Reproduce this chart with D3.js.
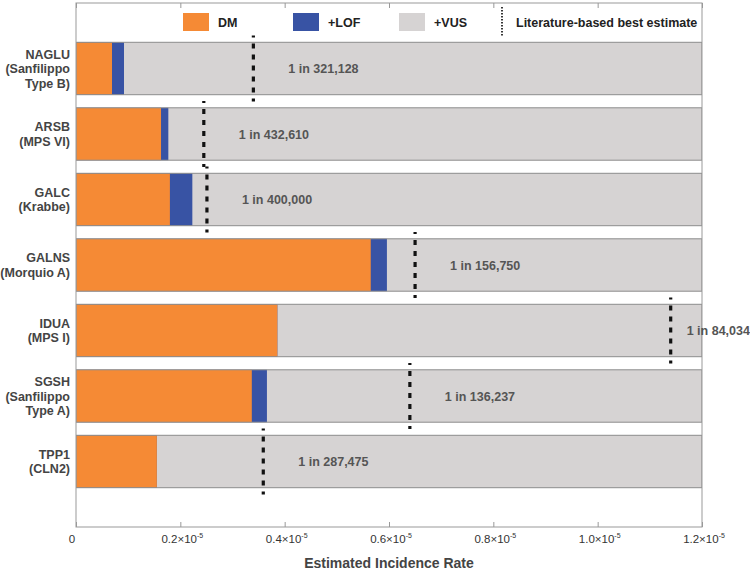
<!DOCTYPE html>
<html>
<head>
<meta charset="utf-8">
<script src="https://cdn.jsdelivr.net/npm/d3@7"></script>
<style>
  html, body { margin: 0; padding: 0; background: #fff; }
  svg { display: block; font-family: "Liberation Sans", Arial, Helvetica, sans-serif; }
</style>
</head>
<body>
<svg id="chart" width="750" height="570"></svg>
<script>
// ---- data ----
const genes = ["NAGLU", "ARSB", "GALC", "GALNS", "IDUA", "SGSH", "TPP1"];
const diseases = [["(Sanfilippo", "Type B)"], ["(MPS VI)"], ["(Krabbe)"], ["(Morquio A)"], ["(MPS I)"], ["(Sanfilippo", "Type A)"], ["(CLN2)"]];
const dmValues  = [0.069e-5, 0.163e-5, 0.180e-5, 0.565e-5, 0.386e-5, 0.337e-5, 0.155e-5];
const lofValues = [0.092e-5, 0.177e-5, 0.223e-5, 0.596e-5, 0.386e-5, 0.366e-5, 0.155e-5];
const vusValues = [1.2e-5, 1.2e-5, 1.2e-5, 1.2e-5, 1.2e-5, 1.2e-5, 1.2e-5];
const literatureEstimate = [0.340e-5, 0.245e-5, 0.251e-5, 0.650e-5, 1.140e-5, 0.640e-5, 0.359e-5];
const literatureLabels = ["1 in 321,128", "1 in 432,610", "1 in 400,000", "1 in 156,750", "1 in 84,034", "1 in 136,237", "1 in 287,475"];
const xTicks = [0, 0.2e-5, 0.4e-5, 0.6e-5, 0.8e-5, 1.0e-5, 1.2e-5];
const xTickLabels = ["0", "0.2×10", "0.4×10", "0.6×10", "0.8×10", "1.0×10", "1.2×10"];
const seriesNames = ["DM", "+LOF", "+VUS"];
const seriesColors = ["#F58A35", "#3853A4", "#D6D3D3"];

// ---- layout ----
const pLeft = 76, pRight = 702, pTop = 3, pBottom = 527;
const svg = d3.select("#chart");
const x = d3.scaleLinear().domain([0, 1.2e-5]).range([pLeft, pRight]);
const y = d3.scaleLinear().domain([0, genes.length + 1]).range([pTop, pBottom]);
const half = 0.4;
const barH = y(2 * half) - y(0);

svg.append("clipPath").attr("id", "plotclip")
  .append("rect").attr("x", pLeft).attr("y", pTop).attr("width", pRight - pLeft).attr("height", pBottom - pTop);

const g = svg.append("g").attr("clip-path", "url(#plotclip)");

const rows = genes.map((gname, i) => ({
  i, gname, dm: dmValues[i], lof: lofValues[i], vus: vusValues[i],
  lit: literatureEstimate[i], label: literatureLabels[i]
}));

const layers = [
  { key: "vus", color: seriesColors[2] },
  { key: "lof", color: seriesColors[1] },
  { key: "dm", color: seriesColors[0] }
];
layers.forEach(L => {
  g.selectAll(null).data(rows).enter().append("rect")
    .attr("x", x(0))
    .attr("y", d => y(d.i + 1 - half))
    .attr("width", d => Math.max(0, x(d[L.key]) - x(0)))
    .attr("height", barH)
    .attr("fill", L.color);
});
g.selectAll(null).data(rows).enter().append("rect")
  .attr("x", x(0))
  .attr("y", d => y(d.i + 1 - half))
  .attr("width", d => x(d.vus) - x(0))
  .attr("height", barH)
  .attr("fill", "none")
  .attr("stroke", "#8c8c8c")
  .attr("stroke-width", 1);

// plot frame
svg.append("rect").attr("x", pLeft).attr("y", pTop).attr("width", pRight - pLeft).attr("height", pBottom - pTop)
  .attr("fill", "none").attr("stroke", "#999").attr("stroke-width", 1);

// ticks (bottom and top, inward)
const axisB = d3.axisBottom(x).tickValues(xTicks).tickSize(-5).tickFormat("");
const axisT = d3.axisTop(x).tickValues(xTicks).tickSize(-5).tickFormat("");
const gb = svg.append("g").attr("transform", `translate(0,${pBottom})`).call(axisB);
const gt = svg.append("g").attr("transform", `translate(0,${pTop})`).call(axisT);
[gb, gt].forEach(a => {
  a.select(".domain").remove();
  a.selectAll(".tick line").attr("stroke", "#999");
});

// tick labels
const tl = svg.append("g").selectAll(null).data(xTicks).enter().append("text")
  .attr("x", (d, i) => x(d) + (i === 0 ? -4 : 2))
  .attr("y", 543)
  .attr("text-anchor", "middle")
  .attr("font-size", 11.5)
  .attr("fill", "#333");
tl.append("tspan").text((d, i) => xTickLabels[i]);
tl.filter((d, i) => i > 0).append("tspan")
  .attr("dy", -5).attr("font-size", 7).text("-5");

// axis title
svg.append("text").attr("x", (pLeft + pRight) / 2).attr("y", 568)
  .attr("text-anchor", "middle").attr("font-size", 14).attr("font-weight", "bold")
  .attr("fill", "#444").text("Estimated Incidence Rate");

// y labels
rows.forEach(d => {
  const lines = [d.gname].concat(diseases[d.i]);
  const lh = 14.5;
  const cy = y(d.i + 1);
  const t = svg.append("text").attr("text-anchor", "end")
    .attr("font-size", 12.5).attr("font-weight", "bold").attr("fill", "#444");
  lines.forEach((ln, k) => {
    t.append("tspan").attr("x", 70)
      .attr("y", cy + (k - (lines.length - 1) / 2) * lh + 4.5)
      .text(ln);
  });
});

// literature estimate dashed lines
svg.append("g").selectAll(null).data(rows).enter().append("line")
  .attr("x1", d => x(d.lit)).attr("x2", d => x(d.lit))
  .attr("y1", d => y(d.i + 1) - 33).attr("y2", d => y(d.i + 1) + 33)
  .attr("stroke", "#111").attr("stroke-width", 3.2)
  .attr("stroke-dasharray", "5,6").attr("stroke-dashoffset", 3);

// literature labels
svg.append("g").selectAll(null).data(rows).enter().append("text")
  .attr("x", d => x(d.lit) + (x(d.lit) + 35 + 60 > pRight ? 16 : 35))
  .attr("y", d => y(d.i + 1) + 4.5)
  .attr("font-size", 12.5).attr("font-weight", "bold").attr("fill", "#555")
  .text(d => d.label);

// legend
const legY = 13, legH = 18, legW = 26;
const legX = [183, 293, 399];
seriesNames.forEach((name, i) => {
  svg.append("rect").attr("x", legX[i]).attr("y", legY).attr("width", legW).attr("height", legH)
    .attr("fill", seriesColors[i]);
  svg.append("text").attr("x", legX[i] + legW + 9).attr("y", legY + legH / 2 + 4.5)
    .attr("font-size", 12.5).attr("font-weight", "bold").attr("fill", "#222").text(name);
});
svg.append("line").attr("x1", 502).attr("x2", 502).attr("y1", 7).attr("y2", 37)
  .attr("stroke", "#222").attr("stroke-width", 1.8).attr("stroke-dasharray", "1.4,1.6");
svg.append("text").attr("x", 516).attr("y", legY + legH / 2 + 4.5)
  .attr("font-size", 12.5).attr("font-weight", "bold").attr("fill", "#222")
  .text("Literature-based best estimate");
</script>
</body>
</html>
